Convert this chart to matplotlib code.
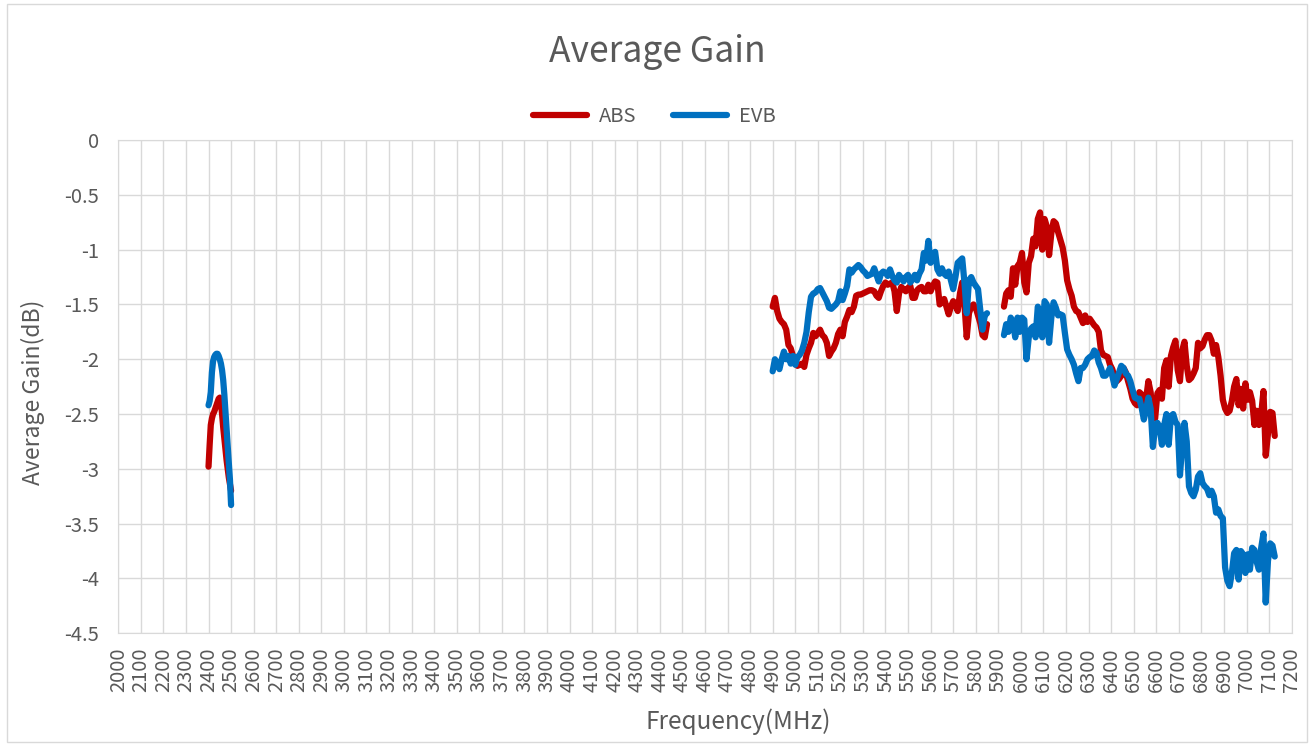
import numpy as np
import matplotlib
matplotlib.use('Agg')
from matplotlib import pyplot as plt
from matplotlib.patches import Rectangle

plt.rcParams['font.family'] = ['Noto Sans CJK SC', 'DejaVu Sans']
plt.rcParams['font.weight'] = 'light'

# frequency grids (MHz) of the three measured bands
freq_24 = np.arange(2400, 2501, 5)
freq_5g = np.arange(4900, 5851, 10)
freq_6g = np.arange(5925, 7126, 10)

# ABS average gain (dB)
abs_24 = [-2.98, -2.78, -2.60, -2.54, -2.50, -2.48, -2.45, -2.42, -2.39, -2.36,
          -2.35, -2.40, -2.50, -2.62, -2.72, -2.82, -2.92, -3.00, -3.08, -3.14, -3.20]
abs_5g = [-1.52, -1.44, -1.56, -1.63, -1.66, -1.68, -1.73, -1.87, -1.90, -1.97,
          -2.04, -2.06, -2.05, -2.04, -2.07, -1.96, -1.90, -1.85, -1.76, -1.79,
          -1.76, -1.73, -1.78, -1.80, -1.85, -1.97, -1.93, -1.90, -1.85, -1.77,
          -1.73, -1.79, -1.66, -1.61, -1.55, -1.57, -1.52, -1.42, -1.41, -1.41,
          -1.40, -1.39, -1.38, -1.37, -1.37, -1.38, -1.42, -1.44, -1.38, -1.33,
          -1.30, -1.32, -1.31, -1.30, -1.38, -1.56, -1.40, -1.34, -1.36, -1.38,
          -1.35, -1.33, -1.44, -1.44, -1.37, -1.35, -1.34, -1.38, -1.38, -1.32,
          -1.38, -1.33, -1.29, -1.30, -1.50, -1.48, -1.45, -1.52, -1.59, -1.52,
          -1.47, -1.50, -1.56, -1.40, -1.30, -1.50, -1.80, -1.58, -1.52, -1.50,
          -1.53, -1.60, -1.67, -1.78, -1.80, -1.68]
abs_6g = [-1.52, -1.40, -1.37, -1.43, -1.17, -1.32, -1.15, -1.12, -1.03, -1.30,
          -1.39, -1.12, -1.06, -0.90, -0.97, -0.72, -0.66, -1.00, -0.72, -0.79,
          -1.05, -0.85, -0.74, -0.76, -0.84, -0.91, -0.98, -1.10, -1.28, -1.36,
          -1.42, -1.52, -1.56, -1.57, -1.62, -1.67, -1.60, -1.66, -1.63, -1.66,
          -1.69, -1.71, -1.75, -1.92, -1.96, -1.97, -1.98, -2.05, -2.09, -2.16,
          -2.20, -2.18, -2.15, -2.08, -2.12, -2.20, -2.27, -2.36, -2.40, -2.42,
          -2.30, -2.32, -2.42, -2.36, -2.20, -2.30, -2.52, -2.54, -2.31, -2.28,
          -2.36, -2.08, -2.01, -2.25, -1.97, -1.89, -1.83, -2.10, -2.20, -1.92,
          -1.84, -2.06, -2.19, -2.17, -2.13, -2.08, -1.85, -1.90, -1.88, -1.82,
          -1.78, -1.78, -1.83, -1.95, -1.87, -1.98, -2.15, -2.37, -2.45, -2.49,
          -2.47, -2.38, -2.25, -2.18, -2.42, -2.27, -2.45, -2.22, -2.37, -2.30,
          -2.38, -2.60, -2.47, -2.60, -2.50, -2.29, -2.88, -2.68, -2.48, -2.49,
          -2.70]

# EVB average gain (dB)
evb_24 = [-2.42, -2.38, -2.30, -2.12, -2.02, -1.98, -1.96, -1.95, -1.95, -1.97,
          -2.00, -2.04, -2.10, -2.19, -2.32, -2.48, -2.65, -2.80, -2.95, -3.10, -3.33]
evb_5g = [-2.11, -2.00, -2.04, -2.09, -2.00, -1.93, -2.00, -1.97, -2.04, -1.97,
          -2.05, -1.98, -1.96, -1.92, -1.85, -1.75, -1.57, -1.43, -1.40, -1.39,
          -1.36, -1.35, -1.39, -1.43, -1.47, -1.53, -1.54, -1.52, -1.50, -1.47,
          -1.38, -1.46, -1.40, -1.33, -1.18, -1.21, -1.18, -1.16, -1.14, -1.16,
          -1.19, -1.21, -1.24, -1.23, -1.22, -1.17, -1.23, -1.29, -1.22, -1.20,
          -1.21, -1.24, -1.18, -1.24, -1.28, -1.30, -1.23, -1.26, -1.29, -1.25,
          -1.23, -1.30, -1.27, -1.23, -1.28, -1.22, -1.18, -1.03, -1.10, -0.92,
          -1.12, -1.05, -1.02, -1.18, -1.22, -1.17, -1.22, -1.24, -1.20, -1.28,
          -1.36, -1.25, -1.12, -1.10, -1.08, -1.30, -1.58, -1.28, -1.25, -1.30,
          -1.33, -1.36, -1.55, -1.73, -1.60, -1.58]
evb_6g = [-1.78, -1.68, -1.75, -1.62, -1.66, -1.80, -1.62, -1.75, -1.62, -1.64,
          -2.00, -1.80, -1.72, -1.70, -1.80, -1.52, -1.58, -1.80, -1.47, -1.50,
          -1.85, -1.62, -1.48, -1.53, -1.60, -1.59, -1.60, -1.76, -1.91, -1.96,
          -2.00, -2.05, -2.13, -2.20, -2.08, -2.08, -2.05, -2.00, -1.98, -1.97,
          -1.92, -1.94, -2.03, -2.08, -2.15, -2.15, -2.12, -2.08, -2.15, -2.24,
          -2.18, -2.12, -2.06, -2.08, -2.13, -2.15, -2.20, -2.28, -2.35, -2.36,
          -2.36, -2.44, -2.55, -2.46, -2.35, -2.45, -2.80, -2.62, -2.58, -2.62,
          -2.78, -2.60, -2.50, -2.78, -2.52, -2.50, -2.57, -2.60, -3.06, -2.78,
          -2.58, -2.75, -3.16, -3.22, -3.25, -3.19, -3.07, -3.04, -3.13, -3.16,
          -3.18, -3.24, -3.20, -3.25, -3.40, -3.37, -3.43, -3.45, -3.90, -4.02,
          -4.07, -3.95, -3.77, -3.74, -4.01, -3.75, -3.78, -3.95, -3.78, -3.92,
          -3.72, -3.74, -3.85, -3.92, -3.72, -3.59, -4.22, -3.84, -3.68, -3.70,
          -3.80]

x_ticks = np.arange(2000, 7201, 100)
y_ticks = [0, -0.5, -1, -1.5, -2, -2.5, -3, -3.5, -4, -4.5]
y_tick_labels = ['0', '-0.5', '-1', '-1.5', '-2', '-2.5', '-3', '-3.5', '-4', '-4.5']

TEXT = '#595959'
GRID = '#d9d9d9'

# join the bands with a NaN so the gaps are left open
gap = [np.nan]
freq = np.concatenate([freq_24, gap, freq_5g, gap, freq_6g])
abs_all = np.concatenate([abs_24, gap, abs_5g, gap, abs_6g])
evb_all = np.concatenate([evb_24, gap, evb_5g, gap, evb_6g])

fig = plt.figure(figsize=(13.14, 7.45), dpi=100)
ax = fig.add_axes([0.090, 0.150, 0.893, 0.662])

line_kw = dict(lw=4.5, solid_joinstyle='round', solid_capstyle='round')
ax.plot(freq, abs_all, color='#C00000', label='ABS', **line_kw)
ax.plot(freq, evb_all, color='#0070C0', label='EVB', **line_kw)

ax.set_xlim(2000, 7200)
ax.set_ylim(-4.5, 0)
ax.set_xticks(x_ticks)
ax.set_xticklabels([str(t) for t in x_ticks], rotation=90)
ax.set_yticks(y_ticks)
ax.set_yticklabels(y_tick_labels)
ax.tick_params(axis='both', length=0, labelsize=14.5, colors=TEXT)
ax.tick_params(axis='x', pad=10)
ax.tick_params(axis='y', pad=14)
ax.grid(color=GRID, lw=1)
ax.set_axisbelow(True)
for s in ax.spines.values():
    s.set_color(GRID)

fig.text(0.5, 0.930, 'Average Gain', ha='center', va='center', fontsize=25.5, color=TEXT)
fig.text(0.025, 0.474, 'Average Gain(dB)', ha='center', va='center', rotation=90,
         fontsize=16.5, color=TEXT)
fig.text(0.5615, 0.031, 'Frequency(MHz)', ha='center', va='center', fontsize=17.5, color=TEXT)

leg = fig.legend(loc='center', bbox_to_anchor=(0.498, 0.843), ncol=2, frameon=False,
                 fontsize=14.5, handlelength=2.7, handletextpad=0.6, columnspacing=1.8)
for t in leg.get_texts():
    t.set_color(TEXT)

# chart area border
fig.add_artist(Rectangle((0.005, 0.004), 0.99, 0.99, transform=fig.transFigure,
                         fill=False, ec=GRID, lw=1))

fig.savefig('out.png', dpi=100)
